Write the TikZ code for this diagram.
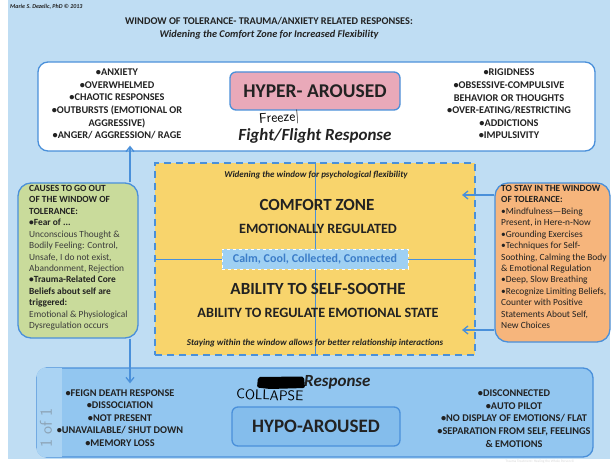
\documentclass[tikz,border=0pt]{standalone}
\usepackage{fontspec}
\setmainfont{Carlito}
\usetikzlibrary{arrows.meta}

\definecolor{bgblue}{HTML}{BFDDF3}
\definecolor{lineblue}{HTML}{4A90DA}
\definecolor{hyperpink}{HTML}{E9A9B9}
\definecolor{causegreen}{HTML}{C9DB9B}
\definecolor{zoneyellow}{HTML}{F8D46C}
\definecolor{stayorange}{HTML}{F6B57C}
\definecolor{hypoblue}{HTML}{92C6F0}
\definecolor{hypoinner}{HTML}{84BDEC}
\definecolor{hypostrip}{HTML}{AAD3F3}
\definecolor{calmfill}{HTML}{9FD0F3}
\definecolor{calmtext}{HTML}{3B7DC9}
\definecolor{bodytext}{HTML}{222222}
\definecolor{softtext}{HTML}{3C3C3C}
\definecolor{markgray}{HTML}{8CA3B6}

\tikzset{
  panel/.style={draw=lineblue, line width=1.3pt, rounded corners=10pt, inner sep=0pt},
  titlebox/.style={draw=lineblue, line width=1.3pt, rounded corners=6pt, inner sep=0pt},
  listtext/.style={align=center, text=bodytext, inner sep=0pt,
    font=\fontsize{10.3}{12.6}\selectfont\bfseries},
  sidetext/.style={align=left, anchor=north west, inner sep=0pt,
    font=\fontsize{9.4}{11.45}\selectfont},
  link/.style={draw=lineblue, line width=1.3pt},
  arr/.style={link, -{Straight Barb[length=5pt,width=8pt,line width=1.3pt]}},
  hand/.style={inner sep=0pt, font=\sffamily\fontsize{14}{14}\selectfont},
}

\begin{document}
\begin{tikzpicture}[x=1pt,y=-1pt]
\useasboundingbox (0,0) rectangle (612,465);
\fill[white] (0,0) rectangle (612,465);
\fill[bgblue] (8,0) rectangle (610,459);

% heading
\node[anchor=west, inner sep=0pt, text=bodytext,
  font=\fontsize{6}{7}\selectfont\bfseries\itshape] (author) at (10,7)
  {Marie S. Dezelic, PhD \textcopyright{} 2013};
\node[inner sep=0pt, text=bodytext, font=\fontsize{10.3}{12}\selectfont\bfseries]
  (title) at (269,21) {WINDOW OF TOLERANCE- TRAUMA/ANXIETY RELATED RESPONSES:};
\node[inner sep=0pt, text=bodytext, font=\fontsize{10.3}{12}\selectfont\bfseries\itshape]
  (subtitle) at (269,35) {Widening the Comfort Zone for Increased Flexibility};

% hyper-aroused panel
\node[panel, fill=white, minimum width=557pt, minimum height=89pt] (hyper) at (316.5,106.5) {};
\node[titlebox, fill=hyperpink, minimum width=170pt, minimum height=38pt,
  font=\fontsize{19.5}{20}\selectfont\bfseries, text=bodytext] (hyperlabel) at (315,91) {HYPER- AROUSED};
\node[inner sep=0pt, text=bodytext, font=\fontsize{17}{18}\selectfont\bfseries\itshape]
  (fight) at (315,136) {Fight/Flight Response};
\node[hand, rotate=4, anchor=west] (freeze) at (259,120) {Freeze|};
\node[listtext] (hyperleft) at (117,104) {%
  •ANXIETY\\ •OVERWHELMED\\ •CHAOTIC RESPONSES\\ •OUTBURSTS (EMOTIONAL OR\\
  AGGRESSIVE)\\ •ANGER/ AGGRESSION/ RAGE};
\node[listtext] (hyperright) at (509,104) {%
  •RIGIDNESS\\ •OBSESSIVE-COMPULSIVE\\ BEHAVIOR OR THOUGHTS\\
  •OVER-EATING/RESTRICTING\\ •ADDICTIONS\\ •IMPULSIVITY};

% hypo-aroused panel, with a paler strip along its left end
\node[panel, fill=hypoblue, minimum width=556pt, minimum height=89pt] (hypo) at (315,412.5) {};
\begin{scope}
  \clip[rounded corners=10pt] (hypo.north west) rectangle (hypo.south east);
  \fill[hypostrip] ([shift={(0.7pt,-0.7pt)}]hypo.north west) rectangle ([xshift=26pt, yshift=0.7pt]hypo.south west);
\end{scope}
\node[titlebox, fill=hypoinner, minimum width=168pt, minimum height=39pt,
  font=\fontsize{19}{20}\selectfont\bfseries, text=bodytext] (hypolabel) at (316,426.5) {HYPO-AROUSED};
\node[inner sep=0pt, text=bodytext, font=\fontsize{17}{18}\selectfont\bfseries\itshape, anchor=west]
  (response) at (304,382) {Response};
\fill[black, rounded corners=2pt] (258,377) -- (304,376.5) -- (305,388) -- (270,389) -- (257,387.5) -- cycle;
\node[hand, rotate=-2, anchor=west] (collapse) at (236,394) {COLLAPSE};
\node[listtext] (hypoleft) at (120,418) {%
  •FEIGN DEATH RESPONSE\\ •DISSOCIATION\\ •NOT PRESENT\\
  •UNAVAILABLE/ SHUT DOWN\\ •MEMORY LOSS};
\node[listtext] (hyporight) at (514,418.5) {%
  •DISCONNECTED\\ •AUTO PILOT\\ •NO DISPLAY OF EMOTIONS/ FLAT\\
  •SEPARATION FROM SELF, FEELINGS\\ \& EMOTIONS};
\node[rotate=90, inner sep=0pt, text=markgray,
  font=\sffamily\fontsize{17}{17}\selectfont] (pagemark) at (46,428) {1 of 1};

% comfort zone window
\coordinate (vx) at (130,0);
\node[draw=lineblue, line width=1.5pt, dash pattern=on 7pt off 5pt, fill=zoneyellow,
  minimum width=320pt, minimum height=192pt, inner sep=0pt] (zone) at (315,259) {};
\draw[lineblue, line width=0.9pt] (zone.north) -- (zone.south);
\draw[lineblue, line width=0.9pt] (zone.west) -- (zone.east);
\node[draw=white, line width=1pt, dashed, fill=calmfill, minimum width=186pt, minimum height=20pt,
  inner sep=0pt, text=calmtext, font=\fontsize{12}{12}\selectfont\bfseries] (calm) at (315,259)
  {Calm, Cool, Collected, Connected};
\node[inner sep=0pt, text=bodytext, font=\fontsize{9}{10}\selectfont\bfseries\itshape]
  (widen) at (316,175) {Widening the window for psychological flexibility};
\node[inner sep=0pt, text=bodytext, font=\fontsize{17}{18}\selectfont\bfseries]
  (comfort) at (317,205) {COMFORT ZONE};
\node[inner sep=0pt, text=bodytext, font=\fontsize{14.2}{15}\selectfont\bfseries]
  (regulated) at (318,229) {EMOTIONALLY REGULATED};
\node[inner sep=0pt, text=bodytext, font=\fontsize{17}{18}\selectfont\bfseries]
  (soothe) at (318,289) {ABILITY TO SELF-SOOTHE};
\node[inner sep=0pt, text=bodytext, font=\fontsize{14.2}{15}\selectfont\bfseries]
  (ability) at (318,313) {ABILITY TO REGULATE EMOTIONAL STATE};
\node[inner sep=0pt, text=bodytext, font=\fontsize{9}{10}\selectfont\bfseries\itshape]
  (staying) at (315,343) {Staying within the window allows for better relationship interactions};

% side panels
\node[panel, fill=causegreen, minimum width=120pt, minimum height=155pt, rounded corners=13pt] (causes) at (78,260.5) {};
\node[sidetext, text=softtext] (causestext) at (29,185) {%
  \textbf{\color{bodytext}CAUSES TO GO OUT}\\
  \textbf{\color{bodytext}OF THE WINDOW OF}\\
  \textbf{\color{bodytext}TOLERANCE:}\\
  \textbf{\color{bodytext}•Fear of ...}\\
  Unconscious Thought \&\\
  Bodily Feeling: Control,\\
  Unsafe, I do not exist,\\
  Abandonment, Rejection\\
  \textbf{\color{bodytext}•Trauma-Related Core}\\
  \textbf{\color{bodytext}Beliefs about self are}\\
  \textbf{\color{bodytext}triggered:}\\
  Emotional \& Physiological\\
  Dysregulation occurs};

\node[panel, fill=stayorange, minimum width=115pt, minimum height=159pt, rounded corners=13pt] (stay) at (552.5,262.5) {};
\node[sidetext, text=bodytext] (staytext) at (501,185) {%
  \textbf{TO STAY IN THE WINDOW}\\
  \textbf{OF TOLERANCE:}\\
  •Mindfulness—Being\\
  Present, in Here-n-Now\\
  •Grounding Exercises\\
  •Techniques for Self-\\
  Soothing, Calming the Body\\
  \& Emotional Regulation\\
  •Deep, Slow Breathing\\
  •Recognize Limiting Beliefs,\\
  Counter with Positive\\
  Statements About Self,\\
  New Choices};

% connectors
\draw[arr] (causes.north -| vx) -- ([yshift=6pt]hyper.south -| vx);
\draw[arr] (causes.south -| vx) -- ([yshift=-16pt]hypo.north -| vx);
\coordinate (topin) at (462,195);
\coordinate (botin) at (462,330);
\draw[arr] (stay.west |- topin) -- (topin);
\draw[arr] (stay.west |- botin) -- (botin);

\node[inner sep=0pt, text=white!70!gray, font=\fontsize{3.5}{4}\selectfont]
  (footer) at (540,462) {Trauma Treatment: Healing the Whole Person \textcopyright};
\end{tikzpicture}
\end{document}
